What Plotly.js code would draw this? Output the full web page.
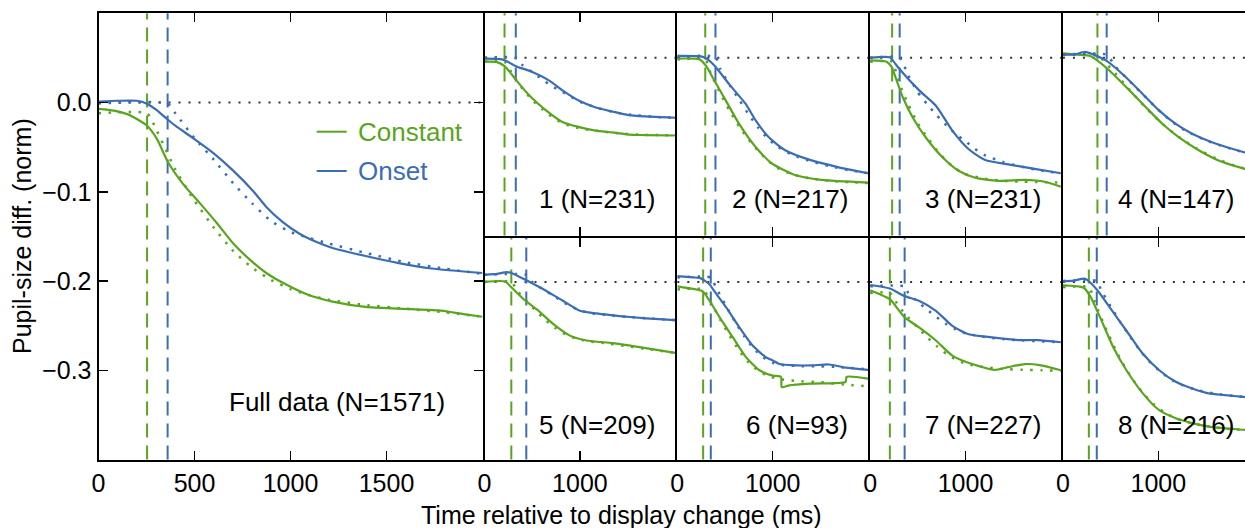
<!DOCTYPE html>
<html><head><meta charset="utf-8">
<script src="https://cdn.plot.ly/plotly-3.0.1.min.js"></script>
<style>html,body{margin:0;padding:0;overflow:hidden;background:#fff}#chart{width:1258px;height:528px}</style>
</head><body><div id="chart"></div>
<script>
// ---------------- data (time in ms, pupil-size diff in norm units) ----------------
const panelLabels = ["Full data (N=1571)","1 (N=231)","2 (N=217)","3 (N=231)","4 (N=147)","5 (N=209)","6 (N=93)","7 (N=227)","8 (N=216)"];
const constantOnsetMs = [253, 210, 293, 231, 362, 281, 271, 207, 272];
const onsetOnsetMs    = [360, 328, 400, 310, 459, 438, 351, 362, 355];
const seriesNames = ["Constant", "Onset"];
const xTicksMain = [0, 500, 1000, 1500];
const xTicksSmall = [0, 1000];
const yTicksMain = [0, -0.1, -0.2, -0.3];
const yTickTextMain = ["0.0", "\u22120.1", "\u22120.2", "\u22120.3"];

// Full data
const fullConstant = [[0,-0.007],[80,-0.009],[150,-0.013],[219,-0.021],[253,-0.026],[305,-0.041],[360,-0.066],[443,-0.092],[529,-0.113],[616,-0.135],[702,-0.158],[788,-0.176],[874,-0.191],[960,-0.202],[1098,-0.216],[1219,-0.223],[1391,-0.229],[1564,-0.231],[1771,-0.233],[1900,-0.237],[2000,-0.240]];
const fullConstantFit = [[0,-0.012],[253,-0.012],[300,-0.030],[400,-0.075],[500,-0.110],[600,-0.140],[700,-0.166],[800,-0.185],[900,-0.199],[1000,-0.209],[1100,-0.216],[1200,-0.221],[1400,-0.227],[1600,-0.231],[1800,-0.235],[2000,-0.240]];
const fullOnset = [[0,0.001],[100,0.002],[200,0.002],[250,-0.001],[300,-0.008],[360,-0.019],[400,-0.026],[500,-0.041],[600,-0.057],[700,-0.076],[805,-0.099],[874,-0.117],[960,-0.134],[1047,-0.147],[1133,-0.156],[1219,-0.163],[1391,-0.172],[1564,-0.180],[1736,-0.186],[2000,-0.191]];
const fullOnsetFit = [[0,-0.001],[360,-0.001],[400,-0.012],[500,-0.040],[600,-0.064],[700,-0.090],[800,-0.113],[900,-0.133],[1000,-0.145],[1100,-0.152],[1200,-0.158],[1400,-0.169],[1600,-0.179],[1800,-0.186],[2000,-0.192]];

// Panel 1
const p1Constant = [[0,-0.008],[131,-0.010],[210,-0.019],[269,-0.033],[338,-0.052],[476,-0.086],[648,-0.119],[821,-0.145],[993,-0.156],[1166,-0.164],[1338,-0.168],[1510,-0.173],[1683,-0.174],[2000,-0.175]];
const p1ConstantFit = [[0,-0.009],[210,-0.009],[300,-0.040],[400,-0.070],[500,-0.095],[600,-0.115],[700,-0.132],[800,-0.145],[900,-0.154],[1000,-0.159],[1200,-0.165],[1400,-0.170],[1600,-0.173],[1800,-0.174],[2000,-0.175]];
const p1Onset = [[0,-0.002],[166,-0.003],[217,-0.006],[328,-0.019],[476,-0.030],[683,-0.052],[821,-0.074],[993,-0.097],[1166,-0.112],[1338,-0.121],[1510,-0.129],[1683,-0.132],[2000,-0.135]];
const p1OnsetFit = [[0,0.000],[328,0.000],[400,-0.017],[500,-0.032],[600,-0.048],[700,-0.063],[800,-0.075],[900,-0.087],[1000,-0.099],[1200,-0.114],[1400,-0.124],[1600,-0.130],[1800,-0.133],[2000,-0.136]];

// Panel 2
const p2Constant = [[0,-0.002],[234,-0.004],[303,-0.019],[372,-0.045],[510,-0.097],[648,-0.149],[821,-0.201],[993,-0.238],[1234,-0.264],[1510,-0.275],[2000,-0.281]];
const p2ConstantFit = [[0,-0.004],[293,-0.004],[350,-0.035],[450,-0.080],[550,-0.120],[650,-0.155],[750,-0.185],[850,-0.210],[950,-0.232],[1050,-0.248],[1200,-0.262],[1400,-0.272],[1600,-0.277],[1800,-0.280],[2000,-0.282]];
const p2Onset = [[0,0.004],[269,0.002],[338,-0.007],[407,-0.022],[545,-0.060],[717,-0.104],[821,-0.141],[959,-0.179],[1131,-0.208],[1407,-0.231],[1683,-0.246],[2000,-0.260]];
const p2OnsetFit = [[0,0.002],[400,0.002],[450,-0.025],[550,-0.062],[650,-0.095],[750,-0.128],[850,-0.158],[950,-0.182],[1050,-0.200],[1200,-0.218],[1400,-0.233],[1600,-0.244],[1800,-0.253],[2000,-0.260]];

// Panel 3
const p3Constant = [[0,-0.006],[172,-0.009],[224,-0.020],[276,-0.050],[345,-0.090],[448,-0.135],[586,-0.180],[759,-0.224],[931,-0.255],[1103,-0.270],[1345,-0.277],[1621,-0.275],[1828,-0.279],[2000,-0.290]];
const p3ConstantFit = [[0,-0.009],[231,-0.009],[300,-0.055],[400,-0.105],[500,-0.148],[600,-0.180],[700,-0.208],[800,-0.232],[900,-0.250],[1000,-0.262],[1200,-0.272],[1400,-0.277],[1600,-0.279],[1800,-0.280],[2000,-0.281]];
const p3Onset = [[0,0.000],[207,0.001],[241,-0.007],[310,-0.026],[517,-0.074],[690,-0.108],[862,-0.164],[1034,-0.206],[1207,-0.230],[1448,-0.240],[1724,-0.250],[2000,-0.260]];
const p3OnsetFit = [[0,0.000],[310,0.000],[400,-0.040],[500,-0.078],[600,-0.105],[700,-0.130],[800,-0.152],[900,-0.172],[1000,-0.188],[1100,-0.205],[1200,-0.219],[1400,-0.235],[1600,-0.246],[1800,-0.254],[2000,-0.260]];

// Panel 4
const p4Constant = [[0,0.010],[148,0.007],[286,0.004],[390,-0.011],[528,-0.037],[700,-0.074],[872,-0.112],[1045,-0.149],[1217,-0.179],[1424,-0.208],[1631,-0.231],[1890,-0.249],[2000,-0.255]];
const p4ConstantFit = [[0,0.006],[362,0.006],[450,-0.012],[550,-0.035],[650,-0.060],[750,-0.085],[850,-0.108],[950,-0.130],[1050,-0.150],[1200,-0.176],[1400,-0.204],[1600,-0.226],[1800,-0.243],[2000,-0.255]];
const p4Onset = [[0,0.007],[114,0.007],[234,0.013],[321,0.007],[459,-0.007],[666,-0.045],[838,-0.082],[1010,-0.119],[1183,-0.149],[1355,-0.171],[1562,-0.190],[1890,-0.212],[2000,-0.218]];
const p4OnsetFit = [[0,0.007],[459,0.007],[550,-0.020],[650,-0.042],[750,-0.064],[850,-0.085],[950,-0.107],[1050,-0.127],[1150,-0.145],[1300,-0.166],[1500,-0.186],[1700,-0.201],[1900,-0.213],[2000,-0.218]];

// Panel 5
const p5Constant = [[0,0.000],[219,0.001],[271,-0.010],[410,-0.039],[549,-0.062],[722,-0.095],[896,-0.121],[1069,-0.132],[1347,-0.138],[1625,-0.147],[2000,-0.160]];
const p5ConstantFit = [[0,0.000],[281,0.000],[350,-0.022],[450,-0.045],[550,-0.068],[650,-0.088],[750,-0.105],[850,-0.118],[950,-0.127],[1100,-0.134],[1300,-0.139],[1500,-0.145],[1700,-0.151],[2000,-0.160]];
const p5Onset = [[0,0.016],[132,0.018],[236,0.022],[306,0.018],[444,0.003],[653,-0.021],[826,-0.043],[1000,-0.065],[1174,-0.071],[1417,-0.077],[1694,-0.082],[2000,-0.086]];
const p5OnsetFit = [[0,0.016],[438,0.016],[500,0.000],[600,-0.015],[700,-0.028],[800,-0.042],[900,-0.055],[1000,-0.064],[1100,-0.070],[1300,-0.075],[1500,-0.079],[1700,-0.082],[2000,-0.086]];

// Panel 6
const p6Constant = [[0,-0.010],[201,-0.017],[264,-0.021],[340,-0.043],[444,-0.080],[583,-0.125],[722,-0.170],[861,-0.199],[1000,-0.211],[1087,-0.214],[1095,-0.237],[1174,-0.233],[1417,-0.229],[1764,-0.225],[1775,-0.214],[2000,-0.218]];
const p6ConstantFit = [[0,-0.017],[271,-0.017],[350,-0.045],[450,-0.085],[550,-0.122],[650,-0.155],[750,-0.182],[850,-0.200],[950,-0.212],[1100,-0.220],[1300,-0.224],[1500,-0.226],[1800,-0.232],[2000,-0.235]];
const p6Onset = [[0,0.013],[167,0.010],[236,0.009],[340,-0.006],[375,-0.017],[514,-0.058],[653,-0.103],[792,-0.144],[931,-0.170],[1000,-0.177],[1069,-0.185],[1243,-0.188],[1417,-0.188],[1590,-0.186],[1764,-0.193],[2000,-0.198]];
const p6OnsetFit = [[0,0.010],[351,0.010],[400,-0.010],[500,-0.050],[600,-0.088],[700,-0.122],[800,-0.150],[900,-0.170],[1000,-0.182],[1100,-0.187],[1300,-0.190],[1500,-0.190],[1700,-0.192],[2000,-0.197]];

// Panel 7
const p7Constant = [[0,-0.019],[103,-0.028],[207,-0.039],[362,-0.080],[517,-0.103],[690,-0.132],[862,-0.166],[1069,-0.185],[1310,-0.198],[1448,-0.192],[1621,-0.185],[1793,-0.188],[2000,-0.199]];
const p7ConstantFit = [[0,-0.025],[207,-0.025],[300,-0.055],[400,-0.080],[500,-0.103],[600,-0.125],[700,-0.145],[800,-0.162],[900,-0.175],[1000,-0.184],[1200,-0.192],[1400,-0.196],[1600,-0.198],[1800,-0.199],[2000,-0.200]];
const p7Onset = [[0,-0.007],[207,-0.015],[362,-0.032],[517,-0.043],[690,-0.065],[862,-0.099],[1034,-0.118],[1276,-0.125],[1552,-0.131],[1759,-0.131],[2000,-0.136]];
const p7OnsetFit = [[0,-0.010],[362,-0.010],[400,-0.025],[500,-0.045],[600,-0.063],[700,-0.080],[800,-0.095],[900,-0.107],[1000,-0.116],[1200,-0.124],[1400,-0.129],[1600,-0.132],[1800,-0.134],[2000,-0.136]];

// Panel 8
const p8Constant = [[0,-0.008],[217,-0.013],[286,-0.032],[390,-0.080],[528,-0.147],[666,-0.199],[838,-0.251],[1010,-0.289],[1183,-0.307],[1355,-0.318],[1562,-0.327],[1890,-0.333],[2000,-0.335]];
const p8ConstantFit = [[0,-0.012],[272,-0.012],[350,-0.055],[450,-0.105],[550,-0.152],[650,-0.192],[750,-0.225],[850,-0.253],[950,-0.275],[1050,-0.292],[1200,-0.309],[1400,-0.321],[1600,-0.328],[1800,-0.332],[2000,-0.335]];
const p8Onset = [[0,0.001],[114,0.003],[234,0.007],[355,-0.017],[493,-0.058],[666,-0.110],[838,-0.162],[1010,-0.199],[1183,-0.225],[1355,-0.240],[1528,-0.251],[1700,-0.255],[1890,-0.259],[2000,-0.261]];
const p8OnsetFit = [[0,0.002],[355,0.002],[400,-0.018],[500,-0.055],[600,-0.090],[700,-0.122],[800,-0.152],[900,-0.178],[1000,-0.198],[1100,-0.215],[1200,-0.228],[1400,-0.243],[1600,-0.252],[1800,-0.257],[2000,-0.261]];

// ---------------- assembly ----------------
const constantSeries = [fullConstant,p1Constant,p2Constant,p3Constant,p4Constant,p5Constant,p6Constant,p7Constant,p8Constant];
const constantFits   = [fullConstantFit,p1ConstantFit,p2ConstantFit,p3ConstantFit,p4ConstantFit,p5ConstantFit,p6ConstantFit,p7ConstantFit,p8ConstantFit];
const onsetSeries    = [fullOnset,p1Onset,p2Onset,p3Onset,p4Onset,p5Onset,p6Onset,p7Onset,p8Onset];
const onsetFits      = [fullOnsetFit,p1OnsetFit,p2OnsetFit,p3OnsetFit,p4OnsetFit,p5OnsetFit,p6OnsetFit,p7OnsetFit,p8OnsetFit];

const GREEN = "#59a51d", BLUE = "#3b6db5";
const FONT = "Liberation Sans, Arial, sans-serif";
const W = 1258, H = 528;
const LW = 2;
const px = v => v / W;
const py = v => (H - v) / H;

// panel boxes in pixels [left, right, top, bottom]; a gap of LW between neighbours
// lets the (outward-drawn) frame lines of adjacent panels coincide.
const boxes = [[98.5, 482.5, 13.3, 459.5]];
for (let r = 0; r < 2; r++) for (let c = 0; c < 4; c++) {
  const l = 484.5 + 192.8 * c;
  boxes.push(r === 0 ? [l, l + 192.8 - LW, 13.3, 235.5] : [l, l + 192.8 - LW, 237.5, 459.5]);
}

const traces = [];
const layout = {
  width: W, height: H, margin: {l:0, r:0, t:0, b:0},
  paper_bgcolor: "#fff", plot_bgcolor: "#fff", showlegend: false,
  font: {family: FONT, size: 25, color: "#000"},
  shapes: [], annotations: []
};

const xy = (arr, i) => arr.map(p => p[i]);

boxes.forEach((b, i) => {
  const n = i === 0 ? "" : String(i + 1);
  const xa = "x" + n, ya = "y" + n;
  const isMain = i === 0, isBottom = i >= 5;
  layout["xaxis" + n] = {
    domain: [px(b[0]), px(b[1])], anchor: ya, range: [0, 2000],
    showline: true, linecolor: "#000", linewidth: LW, mirror: "ticks",
    ticks: "inside", ticklen: 9, tickwidth: 1.5, tickcolor: "#000",
    tickvals: isMain ? xTicksMain : xTicksSmall,
    ticktext: (isMain ? xTicksMain : xTicksSmall).map(String),
    showticklabels: isMain || isBottom,
    tickfont: {family: FONT, size: 25, color: "#000"},
    showgrid: false, zeroline: false, fixedrange: true
  };
  layout["yaxis" + n] = {
    domain: [py(b[3]), py(b[2])], anchor: xa, range: [-0.4, 0.1],
    showline: true, linecolor: "#000", linewidth: LW, mirror: isMain ? "ticks" : true,
    ticks: isMain ? "inside" : "", ticklen: 9, tickwidth: 1.5, tickcolor: "#000",
    tickvals: isMain ? yTicksMain : [], ticktext: isMain ? yTickTextMain : [],
    showticklabels: isMain,
    tickfont: {family: FONT, size: 25, color: "#000"},
    showgrid: false, zeroline: false, fixedrange: true
  };
  // zero reference (dotted)
  layout.shapes.push({type: "line", layer: "below", xref: xa + " domain", yref: ya, x0: 0, x1: 1, y0: 0, y1: 0,
    line: {color: "#333", width: 2, dash: "2px,8px"}});
  // onset markers (dashed)
  layout.shapes.push({type: "line", layer: "below", xref: xa, yref: ya + " domain", x0: constantOnsetMs[i], x1: constantOnsetMs[i], y0: 0, y1: 1,
    line: {color: GREEN, width: 2, dash: "14px,8px"}});
  layout.shapes.push({type: "line", layer: "below", xref: xa, yref: ya + " domain", x0: onsetOnsetMs[i], x1: onsetOnsetMs[i], y0: 0, y1: 1,
    line: {color: BLUE, width: 2, dash: "14px,8px"}});

  [[constantSeries[i], constantFits[i], GREEN, 0], [onsetSeries[i], onsetFits[i], BLUE, 1]].forEach(([s, f, col, k]) => {
    traces.push({x: xy(s, 0), y: xy(s, 1), xaxis: xa, yaxis: ya, type: "scatter", mode: "lines", name: seriesNames[k],
      line: {color: col, width: 2.2, shape: "spline", smoothing: 0.6}, hoverinfo: "skip"});
    traces.push({x: xy(f, 0), y: xy(f, 1), xaxis: xa, yaxis: ya, type: "scatter", mode: "lines", name: seriesNames[k] + " fit",
      line: {color: col, width: 2.5, dash: "2.5px,7.5px", shape: "spline", smoothing: 0.5}, hoverinfo: "skip"});
  });

  // panel label
  layout.annotations.push({
    text: panelLabels[i], showarrow: false, xref: xa + " domain", yref: ya + " domain",
    x: isMain ? 0.907 : 0.905, xanchor: "right",
    y: isMain ? 0.129 : (isBottom ? 0.155 : 0.163), yanchor: "middle",
    font: {family: FONT, size: 26, color: "#000"}
  });
});

// legend (drawn manually to match colored labels)
[[GREEN, 131.7, 0], [BLUE, 171, 1]].forEach(([col, yy, k]) => {
  layout.shapes.push({type: "line", xref: "paper", yref: "paper", x0: px(316.7), x1: px(346.7), y0: py(yy), y1: py(yy),
    line: {color: col, width: 2}});
  layout.annotations.push({text: seriesNames[k], showarrow: false, xref: "paper", yref: "paper",
    x: px(355.5), xanchor: "left", y: py(yy), yanchor: "middle", font: {family: FONT, size: 26, color: col}});
});

// axis titles
layout.annotations.push({text: "Time relative to display change (ms)", showarrow: false, xref: "paper", yref: "paper",
  x: px(621), xanchor: "center", y: py(515), yanchor: "middle", font: {family: FONT, size: 25, color: "#000"}});
layout.annotations.push({text: "Pupil-size diff. (norm)", showarrow: false, xref: "paper", yref: "paper", textangle: -90,
  x: px(22), xanchor: "center", y: py(236), yanchor: "middle", font: {family: FONT, size: 25, color: "#000"}});

Plotly.newPlot("chart", traces, layout, {displayModeBar: false, staticPlot: true});
</script></body></html>
